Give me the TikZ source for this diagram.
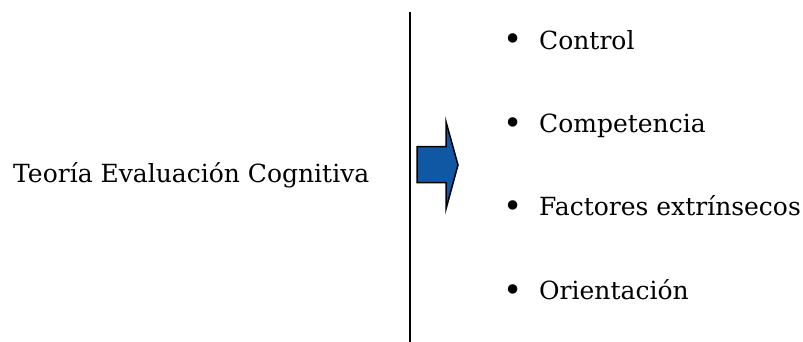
\documentclass[tikz,border=0pt]{standalone}
\usepackage{fontspec}
\usepackage{graphicx}
\setmainfont{DejaVu Serif}
\definecolor{arrowblue}{RGB}{16,88,163}
\newcommand{\bulletmark}{\makebox[36pt][l]{\raisebox{-1.5pt}{\scalebox{1.3}{•}}}}
\begin{document}
\begin{tikzpicture}[x=1pt,y=1pt,
  lbl/.style={inner sep=0pt, anchor=base west, font=\fontsize{25}{30}\selectfont},
  item/.style={lbl},
  bigarrow/.style={fill=arrowblue, draw=black, line width=1.5pt, line join=miter}]
\useasboundingbox (0,0) rectangle (803,342);
\coordinate (top) at (409.7,330);
\coordinate (bot) at (409.7,0);
\draw[line width=2pt] (top) -- (bot);
\node[lbl] (theory) at (13,159) {Teoría Evaluación Cognitiva};
\draw[bigarrow] (417,195.3) -- (446,195.3) -- (446,220.3) -- (458,177) -- (446,133) -- (446,159.3) -- (417,159.3) -- cycle;
\node[item] (i1) at (503,292.5) {\bulletmark Control};
\node[item] (i2) at (503,209) {\bulletmark Competencia};
\node[item] (i3) at (503,126) {\bulletmark Factores extrínsecos};
\node[item] (i4) at (503,42) {\bulletmark Orientación};
\end{tikzpicture}
\end{document}
